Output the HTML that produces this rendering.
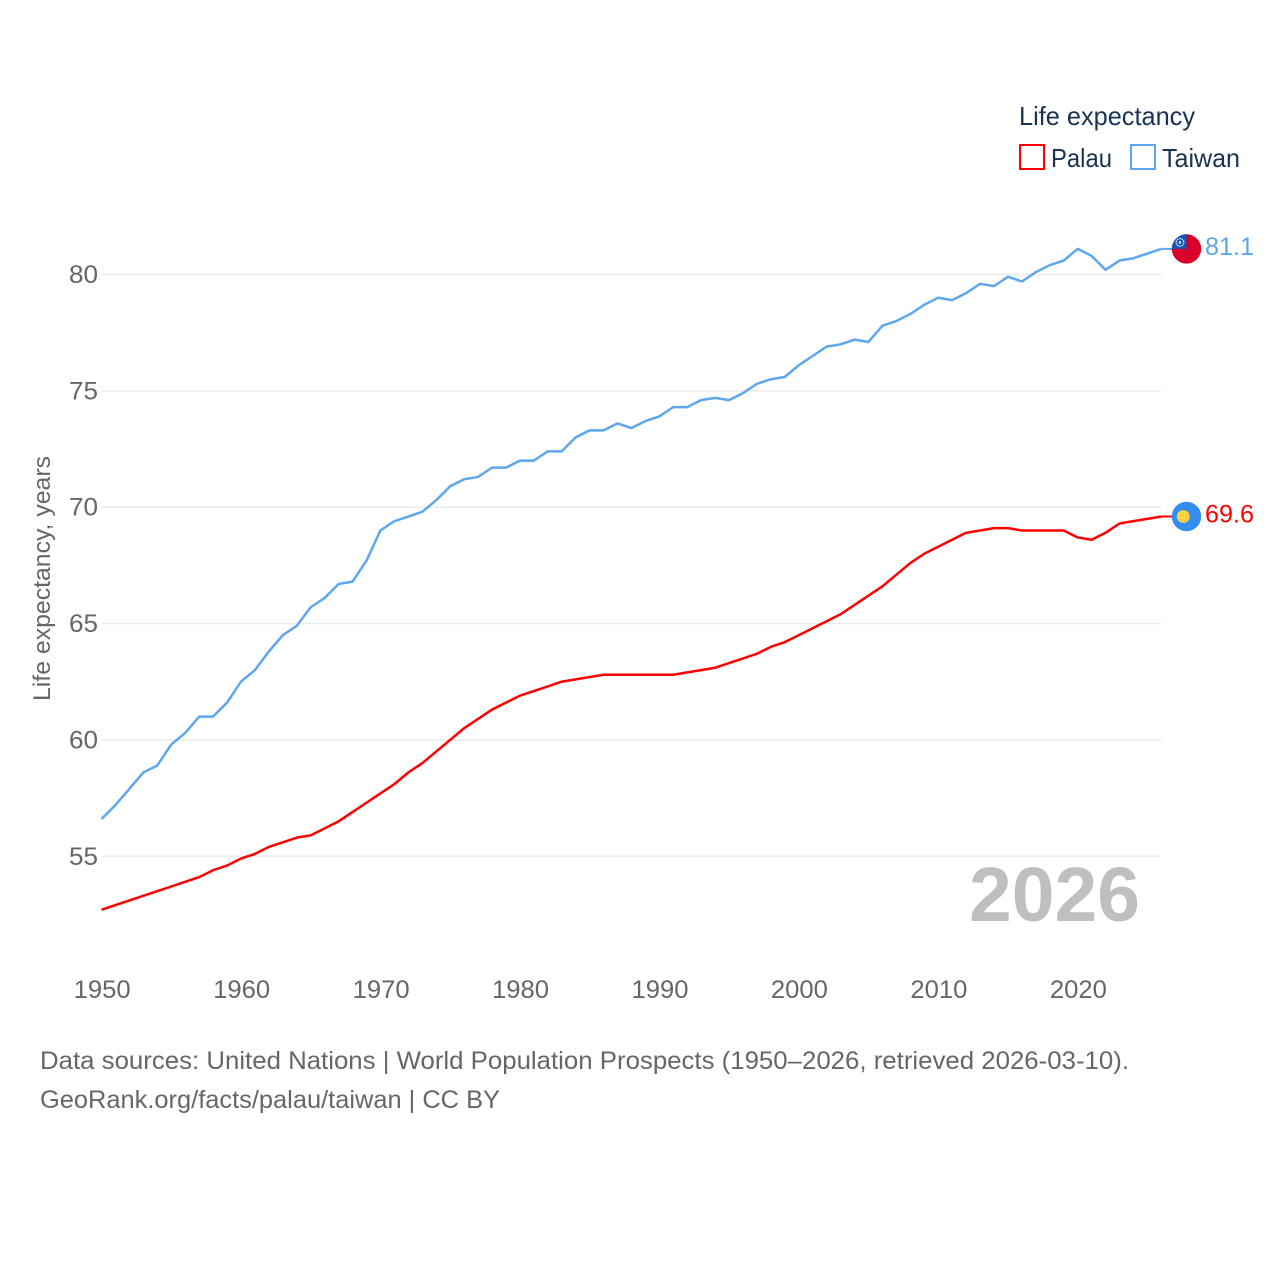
<!DOCTYPE html>
<html lang="en">
<head>
<meta charset="utf-8">
<title>Life expectancy: Palau and Taiwan</title>
<style>
html,body{margin:0;padding:0;background:#fff;width:1280px;height:1280px;overflow:hidden}
svg{display:block;font-family:"Liberation Sans",sans-serif}
</style>
</head>
<body>
<svg id="chart" width="1280" height="1280" viewBox="0 0 1280 1280" xmlns="http://www.w3.org/2000/svg">
  <rect width="1280" height="1280" fill="#ffffff"/>
  <g id="grid"></g>
  <g id="yticks"></g>
  <g id="xticks"></g>
  <text transform="translate(50,701) rotate(-90)" font-size="24" fill="#666666" textLength="245" lengthAdjust="spacingAndGlyphs">Life expectancy, years</text>
  <text x="969" y="921" font-size="77" font-weight="700" fill="#bfbfbf" textLength="171" lengthAdjust="spacingAndGlyphs">2026</text>
  <path id="line-taiwan" fill="none" stroke="#5ea6ee" stroke-width="2.5" stroke-linejoin="round"/>
  <path id="line-palau" fill="none" stroke="#ff0000" stroke-width="2.5" stroke-linejoin="round"/>
  <g id="end-taiwan">
    <defs><clipPath id="flag-clip"><circle cx="0" cy="0" r="14.7"/></clipPath></defs>
    <line x1="-25" x2="-14" y1="0" y2="0" stroke="#5ea6ee" stroke-width="2"/>
    <g clip-path="url(#flag-clip)">
      <rect x="-15" y="-15" width="30" height="30" fill="#d9002b"/>
      <rect x="-15" y="-15" width="15" height="15" fill="#1454b4"/>
      <circle cx="-6.5" cy="-6.5" r="3.8" fill="none" stroke="#cfe0f5" stroke-width="1.4" stroke-dasharray="1.6 0.8"/>
      <circle cx="-6.5" cy="-6.5" r="1.2" fill="#ffffff"/>
    </g>
    <text id="value-taiwan" x="18.5" y="6" font-size="25" fill="#5ea6ee" textLength="49" lengthAdjust="spacingAndGlyphs"></text>
  </g>
  <g id="end-palau">
    <line x1="-25" x2="-14" y1="0" y2="0" stroke="#ff0000" stroke-width="2"/>
    <g>
      <circle cx="0" cy="0" r="14.7" fill="#338ef0"/>
      <circle cx="-3.2" cy="0" r="6.4" fill="#ffd23f"/>
    </g>
    <text id="value-palau" x="18.5" y="6" font-size="25" fill="#ff0000" textLength="49" lengthAdjust="spacingAndGlyphs"></text>
  </g>
  <g>
    <text x="1019" y="125" font-size="26" fill="#1a3354" textLength="176" lengthAdjust="spacingAndGlyphs">Life expectancy</text>
    <g>
      <rect x="1020" y="145" width="24" height="24" fill="#ffffff" stroke="#ff0000" stroke-width="2"/>
      <text x="1051" y="167" font-size="26" fill="#1a3354" textLength="61" lengthAdjust="spacingAndGlyphs">Palau</text>
    </g>
    <g>
      <rect x="1131" y="145" width="24" height="24" fill="#ffffff" stroke="#5ea6ee" stroke-width="2"/>
      <text x="1162" y="167" font-size="26" fill="#1a3354" textLength="78" lengthAdjust="spacingAndGlyphs">Taiwan</text>
    </g>
  </g>
  <text x="40" y="1069" font-size="25" fill="#666666" textLength="1089" lengthAdjust="spacingAndGlyphs">Data sources: United Nations | World Population Prospects (1950–2026, retrieved 2026-03-10).</text>
  <text x="40" y="1108" font-size="25" fill="#666666" textLength="460" lengthAdjust="spacingAndGlyphs">GeoRank.org/facts/palau/taiwan | CC BY</text>
</svg>
<script>
const startYear = 1950;
const xTickYears = [1950, 1960, 1970, 1980, 1990, 2000, 2010, 2020];
const yTickValues = [55, 60, 65, 70, 75, 80];
const taiwanValues = [56.6,57.2,57.9,58.6,58.9,59.8,60.3,61.0,61.0,61.6,
  62.5,63.0,63.8,64.5,64.9,65.7,66.1,66.7,66.8,67.7,
  69.0,69.4,69.6,69.8,70.3,70.9,71.2,71.3,71.7,71.7,
  72.0,72.0,72.4,72.4,73.0,73.3,73.3,73.6,73.4,73.7,
  73.9,74.3,74.3,74.6,74.7,74.6,74.9,75.3,75.5,75.6,
  76.1,76.5,76.9,77.0,77.2,77.1,77.8,78.0,78.3,78.7,
  79.0,78.9,79.2,79.6,79.5,79.9,79.7,80.1,80.4,80.6,
  81.1,80.8,80.2,80.6,80.7,80.9,81.1];
const palauValues = [52.7,52.9,53.1,53.3,53.5,53.7,53.9,54.1,54.4,54.6,
  54.9,55.1,55.4,55.6,55.8,55.9,56.2,56.5,56.9,57.3,
  57.7,58.1,58.6,59.0,59.5,60.0,60.5,60.9,61.3,61.6,
  61.9,62.1,62.3,62.5,62.6,62.7,62.8,62.8,62.8,62.8,
  62.8,62.8,62.9,63.0,63.1,63.3,63.5,63.7,64.0,64.2,
  64.5,64.8,65.1,65.4,65.8,66.2,66.6,67.1,67.6,68.0,
  68.3,68.6,68.9,69.0,69.1,69.1,69.0,69.0,69.0,69.0,
  68.7,68.6,68.9,69.3,69.4,69.5,69.6];

const NS = 'http://www.w3.org/2000/svg';
function xScale(year) { return 101.5 + (year - 1950) * 13.945; }
function yScale(value) { return 274.5 + (80 - value) * 23.27; }
function linePath(values) {
  return values.map(function (v, i) {
    return (i ? 'L' : 'M') + xScale(startYear + i).toFixed(2) + ' ' + yScale(v).toFixed(2);
  }).join('');
}

const lastYear = startYear + taiwanValues.length - 1;
const gridGroup = document.getElementById('grid');
const yGroup = document.getElementById('yticks');
const xGroup = document.getElementById('xticks');

yTickValues.forEach(function (v) {
  const gl = document.createElementNS(NS, 'line');
  
  
  gl.setAttribute('x1', xScale(startYear));
  gl.setAttribute('x2', xScale(lastYear));
  gl.setAttribute('y1', yScale(v));
  gl.setAttribute('y2', yScale(v));
  gl.setAttribute('stroke', '#ebebeb');
  gl.setAttribute('stroke-width', '1.5');
  gridGroup.appendChild(gl);

  const t = document.createElementNS(NS, 'text');
  
  
  t.setAttribute('x', 69);
  t.setAttribute('y', yScale(v) + 8.5);
  t.setAttribute('font-size', '25');
  t.setAttribute('fill', '#666666');
  t.setAttribute('textLength', '29');
  t.setAttribute('lengthAdjust', 'spacingAndGlyphs');
  t.textContent = String(v);
  yGroup.appendChild(t);
});

xTickYears.forEach(function (y) {
  const t = document.createElementNS(NS, 'text');
  
  
  t.setAttribute('x', xScale(y) + 0.7);
  t.setAttribute('y', 998);
  t.setAttribute('text-anchor', 'middle');
  t.setAttribute('font-size', '25');
  t.setAttribute('fill', '#666666');
  t.setAttribute('textLength', '57');
  t.setAttribute('lengthAdjust', 'spacingAndGlyphs');
  t.textContent = String(y);
  xGroup.appendChild(t);
});

document.getElementById('line-taiwan').setAttribute('d', linePath(taiwanValues));
document.getElementById('line-palau').setAttribute('d', linePath(palauValues));

const taiwanLast = taiwanValues[taiwanValues.length - 1];
const palauLast = palauValues[palauValues.length - 1];
document.getElementById('end-taiwan').setAttribute('transform', 'translate(1186.5,' + yScale(taiwanLast) + ')');
document.getElementById('end-palau').setAttribute('transform', 'translate(1186.5,' + yScale(palauLast) + ')');
document.getElementById('value-taiwan').textContent = taiwanLast.toFixed(1);
document.getElementById('value-palau').textContent = palauLast.toFixed(1);
</script>
</body>
</html>
